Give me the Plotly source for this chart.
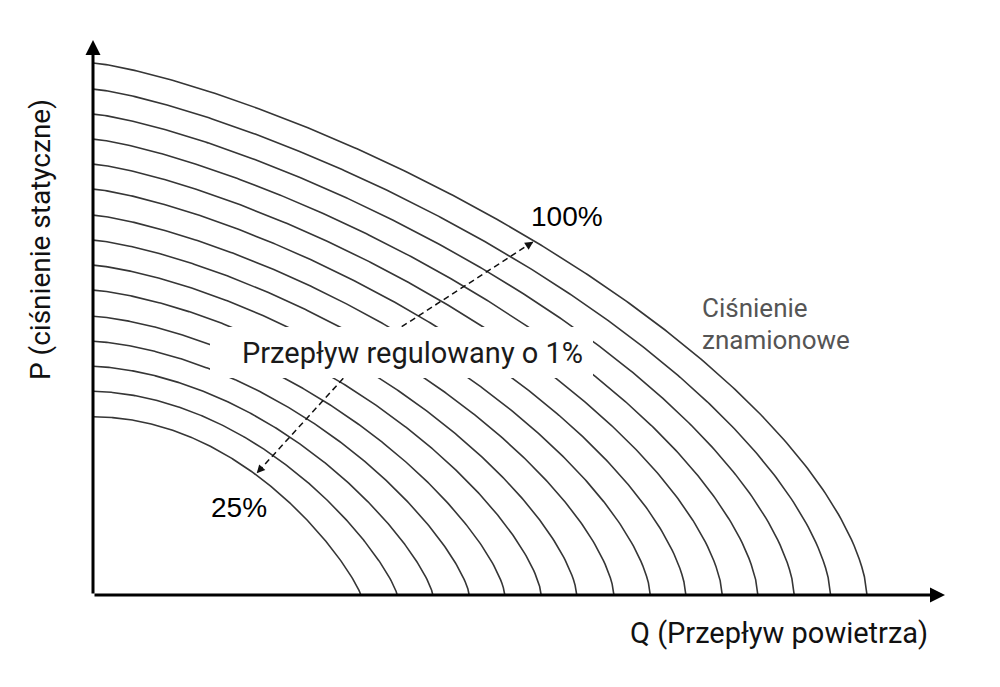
import numpy as np
import plotly.graph_objects as go

# ---- data (arbitrary units: outermost curve = 100 on both axes) ----
speed_labels = ["25%", "100%"]
# maximum flow (P = 0) for each fan curve, innermost -> outermost
q_max = [34.6, 39.3, 43.9, 48.6, 53.2, 57.9, 62.5, 67.3, 72.0, 76.6, 81.3, 85.9, 90.6, 95.3, 100.0]
# shut-off pressure (Q = 0) for each fan curve, innermost -> outermost
p_max = [33.5, 38.3, 43.0, 47.7, 52.4, 57.3, 62.0, 66.7, 71.4, 76.3, 81.0, 85.7, 90.4, 95.1, 100.0]

# pixel scale helpers for layout
PX_X0, PX_Y0 = 93, 595          # origin in pixels
SX, SY = 7.74, 5.32             # pixels per data unit
def dx(px): return (px - PX_X0) / SX
def dy(py): return (PX_Y0 - py) / SY
def paper_x(px): return (px - 93) / 852
def paper_y(py): return (595 - py) / 555

X_MAX = dx(945)
Y_MAX = dy(40)

fig = go.Figure()

n = len(q_max)
t = np.linspace(0, 1, 300)
f_outer = (1 - t ** 1.3) ** 0.62
f_inner = (1 - t ** 2.0) ** 0.85
for i, (qm, pm) in enumerate(zip(q_max, p_max)):
    w = ((n - 1 - i) / (n - 1)) ** 2.5
    f = (1 - w) * f_outer + w * f_inner
    fig.add_trace(go.Scatter(x=qm * t, y=pm * f, mode="lines",
                             line=dict(color="#363636", width=1.6),
                             hoverinfo="skip", showlegend=False))

# dashed arrows
up_start, up_end = (dx(401.7), dy(326.7)), (dx(533.3), dy(241.7))
lo_start, lo_end = (dx(343.3), dy(378.3)), (dx(256.7), dy(473.3))
for s, e in [(up_start, up_end), (lo_start, lo_end)]:
    fig.add_trace(go.Scatter(x=[s[0], e[0]], y=[s[1], e[1]], mode="lines",
                             line=dict(color="#111", width=1.5, dash="6px,4px"),
                             hoverinfo="skip", showlegend=False))

annotations = []
for s, e in [(up_start, up_end), (lo_start, lo_end)]:
    vx = (e[0] - s[0]) * SX
    vy = -(e[1] - s[1]) * SY
    L = (vx ** 2 + vy ** 2) ** 0.5
    annotations.append(dict(x=e[0], y=e[1], xref="x", yref="y", text="",
                            showarrow=True, arrowhead=2, arrowwidth=1.5, arrowsize=1.1,
                            arrowcolor="#111", ax=-vx / L * 8, ay=-vy / L * 8,
                            standoff=0, borderpad=0))

# axes with arrowheads
annotations.append(dict(x=X_MAX, y=0, ax=0, ay=0, xref="x", yref="y", axref="x", ayref="y",
                        text="", showarrow=True, arrowhead=2, arrowwidth=3, arrowsize=1,
                        arrowcolor="#000", standoff=0))
annotations.append(dict(x=0, y=Y_MAX, ax=0, ay=0, xref="x", yref="y", axref="x", ayref="y",
                        text="", showarrow=True, arrowhead=2, arrowwidth=3, arrowsize=1,
                        arrowcolor="#000", standoff=0))

# white box behind centre label
shapes = [dict(type="rect", xref="x", yref="y", x0=dx(210), x1=dx(593), y0=dy(378), y1=dy(327),
               fillcolor="white", line=dict(width=0), layer="above")]

annotations += [
    dict(x=dx(412.5), y=dy(353), xref="x", yref="y", text="Przepływ regulowany o 1%",
         xanchor="center", yanchor="middle", showarrow=False,
         font=dict(family="Roboto", size=29, color="#1a1a1a")),
    dict(x=dx(567), y=dy(216), xref="x", yref="y", text=speed_labels[1],
         xanchor="center", yanchor="middle", showarrow=False,
         font=dict(family="Liberation Sans", size=28, color="#000")),
    dict(x=dx(239), y=dy(507), xref="x", yref="y", text=speed_labels[0],
         xanchor="center", yanchor="middle", showarrow=False,
         font=dict(family="Liberation Sans", size=28, color="#000")),
    dict(x=dx(700), y=dy(308), xref="x", yref="y", text="Ciśnienie",
         xanchor="left", yanchor="middle", showarrow=False,
         font=dict(family="Roboto", size=26, color="#555")),
    dict(x=dx(700), y=dy(340), xref="x", yref="y", text="znamionowe",
         xanchor="left", yanchor="middle", showarrow=False,
         font=dict(family="Roboto", size=26, color="#555")),
    dict(x=paper_x(779), y=paper_y(633), xref="paper", yref="paper",
         text="Q (Przepływ powietrza)", xanchor="center", yanchor="middle", showarrow=False,
         font=dict(family="Roboto", size=29, color="#111")),
    dict(x=paper_x(40), y=paper_y(240), xref="paper", yref="paper",
         text="P (ciśnienie statyczne)", textangle=-90, xanchor="center", yanchor="middle",
         showarrow=False, font=dict(family="Roboto", size=28, color="#111")),
]

fig.update_layout(
    width=1000, height=687, autosize=False,
    margin=dict(l=93, r=55, t=40, b=92),
    plot_bgcolor="white", paper_bgcolor="white",
    xaxis=dict(range=[0, X_MAX], visible=False, fixedrange=True),
    yaxis=dict(range=[0, Y_MAX], visible=False, fixedrange=True),
    annotations=annotations, shapes=shapes, showlegend=False,
)

fig.write_html("out.html")
